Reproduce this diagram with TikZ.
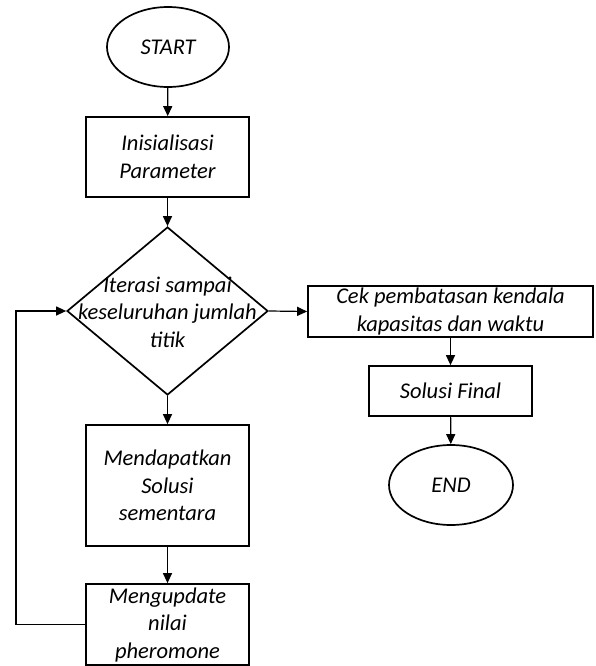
\documentclass[tikz,border=0pt]{standalone}
\usepackage{fontspec}
\setmainfont{Carlito}
\usetikzlibrary{shapes.geometric,arrows.meta}
\begin{document}
\begin{tikzpicture}[x=1pt,y=-1pt,
  every node/.style={font=\fontsize{22.5}{27.5}\selectfont\itshape, align=center},
  term/.style={draw, ellipse, line width=1.7pt, inner sep=0pt},
  proc/.style={draw, rectangle, line width=1.7pt, inner sep=0pt},
  dia/.style={draw, diamond, line width=1.7pt, inner sep=0pt},
  conn/.style={line width=1.2pt, -{Triangle[length=10pt,width=9pt]}}]
\useasboundingbox (0,0) rectangle (595,666);
\node[term, minimum width=122pt, minimum height=80pt] (start) at (168,47) {START};
\node[proc, minimum width=163pt, minimum height=80pt] (init) at (167.5,157) {Inisialisasi\\Parameter};
\node[dia, minimum width=201pt, minimum height=168pt] (dec) at (167.5,311) {};
\node (dect) at (167.5,312) {Iterasi sampai\\keseluruhan jumlah\\titik};
\node[proc, minimum width=163pt, minimum height=121pt] (mend) at (167.5,485.5) {Mendapatkan\\Solusi\\sementara};
\node[proc, minimum width=163pt, minimum height=81pt] (upd) at (167.5,624.5) {Mengupdate\\nilai\\pheromone};
\node[proc, minimum width=285pt, minimum height=51pt] (cek) at (450.5,311.5) {Cek pembatasan kendala\\kapasitas dan waktu};
\node[proc, minimum width=163pt, minimum height=50pt] (sol) at (450.5,391) {Solusi Final};
\node[term, minimum width=124pt, minimum height=80pt] (end) at (451,485) {END};
\coordinate (lb) at (16,624.5);
\coordinate (lt) at (16,311);
\draw[conn] (start) -- (init);
\draw[conn] (init) -- (dec);
\draw[conn] (dec) -- (mend);
\draw[conn] (mend) -- (upd);
\draw[conn] (upd.west) -- (lb) -- (lt) -- (dec.west);
\draw[conn] (dec.east) -- (cek.west);
\draw[conn] (cek) -- (sol);
\draw[conn] (sol) -- (end);
\end{tikzpicture}
\end{document}
